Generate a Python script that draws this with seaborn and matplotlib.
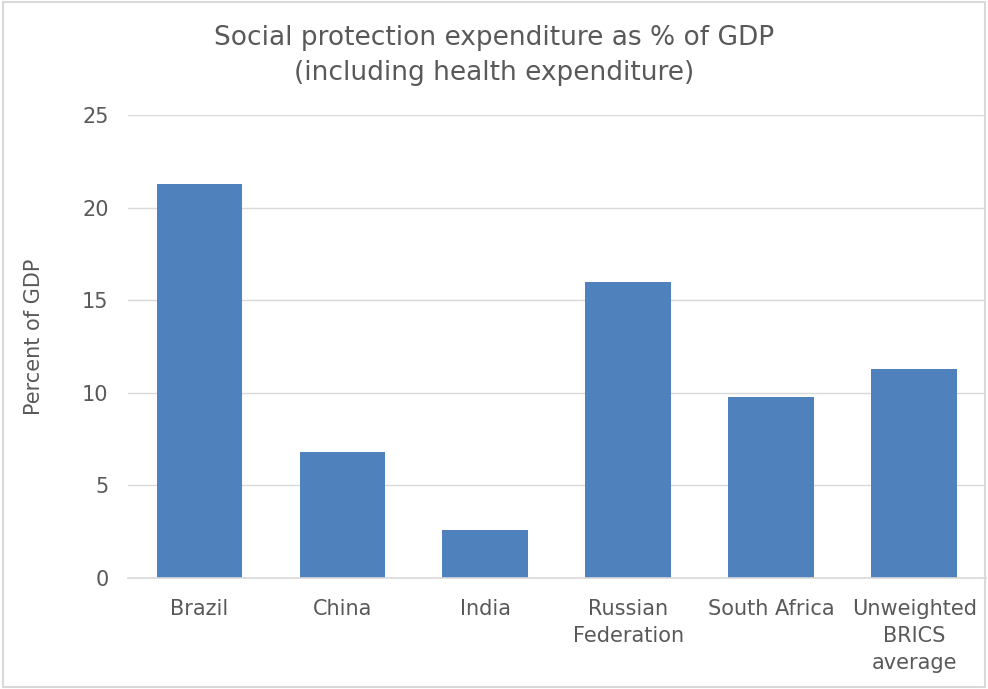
import matplotlib
matplotlib.use("Agg")
import matplotlib.pyplot as plt
import seaborn as sns
import pandas as pd
from matplotlib.patches import Rectangle

categories = ["Brazil", "China", "India", "Russian\nFederation", "South Africa", "Unweighted\nBRICS\naverage"]
values = [21.3, 6.8, 2.6, 16.0, 9.8, 11.3]
yticks = [0, 5, 10, 15, 20, 25]

sns.set_theme(style="white")
plt.rcParams['font.family'] = ['DejaVu Sans']

df = pd.DataFrame({"cat": categories, "val": values})

fig = plt.figure(figsize=(9.88, 6.89), dpi=100)
ax = fig.add_axes([0.1296, 0.161, 0.868, 0.672])
sns.barplot(data=df, x="cat", y="val", color="#4F81BD", saturation=1, width=0.6,
            linewidth=0, edgecolor="none", ax=ax)

ax.set_ylim(0, 25)
ax.set_yticks(yticks)
ax.set_yticklabels([str(t) for t in yticks], fontsize=15, color="#595959")
ax.set_xticks(range(len(categories)))
ax.set_xticklabels(categories, fontsize=15, color="#595959", linespacing=1.45)
ax.tick_params(axis='y', length=0, pad=14)
ax.tick_params(axis='x', length=0, pad=15)
ax.yaxis.grid(True, color="#D9D9D9", linewidth=1)
ax.set_axisbelow(True)
for s in ["top", "right", "left"]:
    ax.spines[s].set_visible(False)
ax.spines["bottom"].set_color("#D9D9D9")
ax.spines["bottom"].set_linewidth(1.2)
ax.set_xlim(-0.5, len(categories) - 0.5)
ax.set_xlabel("")
ax.set_ylabel("Percent of GDP", fontsize=15, color="#595959")
ax.yaxis.set_label_coords(-0.098, 0.52)

fig.text(0.5, 0.919, "Social protection expenditure as % of GDP\n(including health expenditure)",
         ha="center", va="center", fontsize=19, color="#595959", linespacing=1.45)

fig.patches.append(Rectangle((0.003, 0.003), 0.994, 0.994, transform=fig.transFigure,
                             fill=False, edgecolor="#D9D9D9", linewidth=1.5))

fig.savefig("out.png", dpi=100)
